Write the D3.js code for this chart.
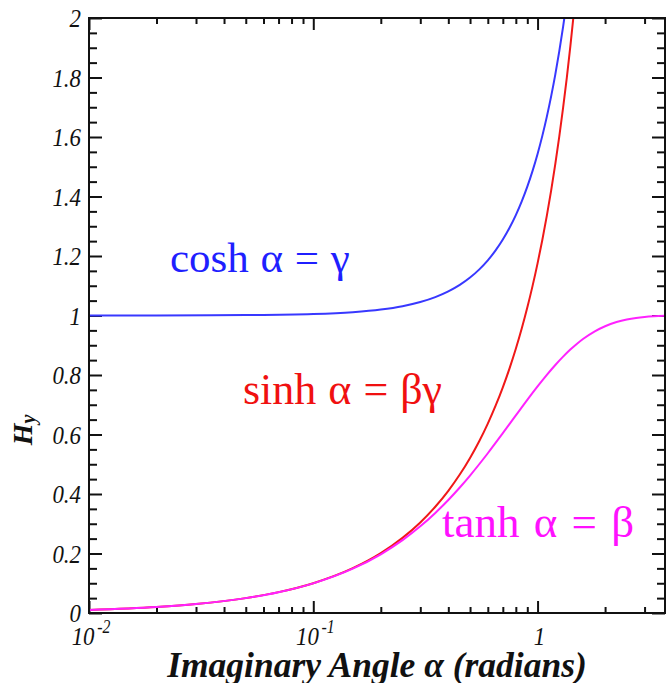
<!DOCTYPE html>
<html><head><meta charset="utf-8">
<script src="https://cdn.jsdelivr.net/npm/d3@7"></script>
<style>body{margin:0;background:#fff}</style></head>
<body><svg id="c" width="668" height="683"></svg>
<script>
// ---- data ----
const alphaCosh = [0.01,0.02,0.05,0.1,0.15,0.2,0.25,0.3,0.35,0.4,0.45,0.5,0.55,0.6,0.65,0.7,0.75,0.8,0.85,0.9,0.95,1.0,1.05,1.1,1.15,1.2,1.25,1.3,1.35,1.4];
const coshVals  = [1.0000,1.0002,1.0013,1.0050,1.0113,1.0201,1.0314,1.0453,1.0619,1.0811,1.1030,1.1276,1.1551,1.1855,1.2188,1.2552,1.2947,1.3374,1.3835,1.4331,1.4862,1.5431,1.6038,1.6685,1.7374,1.8107,1.8884,1.9709,2.0583,2.1509];
const alphaSinh = [0.01,0.02,0.03,0.05,0.07,0.1,0.15,0.2,0.25,0.3,0.35,0.4,0.45,0.5,0.55,0.6,0.65,0.7,0.75,0.8,0.85,0.9,0.95,1.0,1.05,1.1,1.15,1.2,1.25,1.3,1.35,1.4,1.45,1.5];
const sinhVals  = [0.0100,0.0200,0.0300,0.0500,0.0701,0.1002,0.1506,0.2013,0.2526,0.3045,0.3572,0.4108,0.4653,0.5211,0.5782,0.6367,0.6967,0.7586,0.8223,0.8881,0.9561,1.0265,1.0995,1.1752,1.2539,1.3356,1.4208,1.5095,1.6019,1.6984,1.7991,1.9043,2.0143,2.1293];
const alphaTanh = [0.01,0.02,0.03,0.05,0.07,0.1,0.15,0.2,0.25,0.3,0.35,0.4,0.45,0.5,0.6,0.7,0.8,0.9,1.0,1.1,1.2,1.3,1.4,1.5,1.6,1.8,2.0,2.25,2.5,2.75,3.0,3.3,3.7];
const tanhVals  = [0.0100,0.0200,0.0300,0.0500,0.0699,0.0997,0.1489,0.1974,0.2449,0.2913,0.3364,0.3799,0.4219,0.4621,0.5370,0.6044,0.6640,0.7163,0.7616,0.8005,0.8337,0.8617,0.8854,0.9051,0.9217,0.9468,0.9640,0.9780,0.9866,0.9919,0.9951,0.9973,0.9988];

const xTickValues = [0.01, 0.1, 1];
const xTickBase   = ["10", "10", "1"];
const xTickExp    = ["-2", "-1", ""];
const yTickValues = [0,0.2,0.4,0.6,0.8,1,1.2,1.4,1.6,1.8,2];
const yTickLabels = ["0","0.2","0.4","0.6","0.8","1","1.2","1.4","1.6","1.8","2"];
const xDomain = [0.01, 3.7];
const yDomain = [0, 2];
const seriesNames  = ["cosh α = γ", "sinh α = βγ", "tanh α = β"];
const xLabel = "Imaginary Angle α (radians)";
const yLabelMain = "H", yLabelSub = "y";

// ---- layout ----
const L = 89, R = 665, T = 18, B = 613;
const svg = d3.select("#c");
const x = d3.scaleLog().domain(xDomain).range([L, R]);
const y = d3.scaleLinear().domain(yDomain).range([B, T]);

svg.append("defs").append("clipPath").attr("id","clip")
  .append("rect").attr("x",L).attr("y",T).attr("width",R-L).attr("height",B-T);

// ---- axes (inward ticks on all four sides) ----
const xMinor = x.ticks().filter(v => !xTickValues.includes(v));
const yMinor = d3.range(0, 2.0001, 0.05).map(v => +v.toFixed(2)).filter(v => !yTickValues.some(t => Math.abs(t-v) < 1e-6));

function styleAxis(g){ g.select(".domain").remove(); g.selectAll("line").attr("stroke","#111").attr("stroke-width",2); g.selectAll("text").remove(); }

svg.append("g").attr("transform",`translate(0,${B})`).call(d3.axisBottom(x).tickValues(xTickValues).tickSize(-12)).call(styleAxis);
svg.append("g").attr("transform",`translate(0,${B})`).call(d3.axisBottom(x).tickValues(xMinor).tickSize(-6)).call(styleAxis);
svg.append("g").attr("transform",`translate(0,${T})`).call(d3.axisTop(x).tickValues(xTickValues).tickSize(-12)).call(styleAxis);
svg.append("g").attr("transform",`translate(0,${T})`).call(d3.axisTop(x).tickValues(xMinor).tickSize(-6)).call(styleAxis);
svg.append("g").attr("transform",`translate(${L},0)`).call(d3.axisLeft(y).tickValues(yTickValues).tickSize(-13)).call(styleAxis);
svg.append("g").attr("transform",`translate(${L},0)`).call(d3.axisLeft(y).tickValues(yMinor).tickSize(-8)).call(styleAxis);
svg.append("g").attr("transform",`translate(${R},0)`).call(d3.axisRight(y).tickValues(yTickValues).tickSize(-13)).call(styleAxis);
svg.append("g").attr("transform",`translate(${R},0)`).call(d3.axisRight(y).tickValues(yMinor).tickSize(-8)).call(styleAxis);

// ---- curves (drawn over the ticks) ----
const series = [
  {xs: alphaCosh, ys: coshVals, color: "#3838ff"},
  {xs: alphaSinh, ys: sinhVals, color: "#f01818"},
  {xs: alphaTanh, ys: tanhVals, color: "#ff22ff"}
];
const line = d3.line().x(d => x(d[0])).y(d => y(d[1])).curve(d3.curveMonotoneX);
const gLines = svg.append("g").attr("clip-path","url(#clip)");
series.forEach(s => {
  gLines.append("path").datum(s.xs.map((v,i)=>[v,s.ys[i]]))
    .attr("d", line).attr("fill","none").attr("stroke", s.color).attr("stroke-width", 2);
});

// frame
svg.append("rect").attr("x",L).attr("y",T).attr("width",R-L).attr("height",B-T)
  .attr("fill","none").attr("stroke","#111").attr("stroke-width",2);

// ---- tick labels ----
const serif = "'Liberation Serif','DejaVu Serif',serif";
yTickValues.forEach((v,i) => {
  svg.append("text").attr("transform",`translate(${L-8},${y(v)+9}) scale(0.88,1)`)
    .attr("text-anchor","end").attr("font-family",serif).attr("font-style","italic")
    .attr("font-size",26).attr("fill","#111").text(yTickLabels[i]);
});
xTickValues.forEach((v,i) => {
  const t = svg.append("text").attr("transform",`translate(${x(v)+2},${B+32}) scale(0.88,1)`)
    .attr("text-anchor","middle").attr("font-family",serif).attr("font-style","italic")
    .attr("font-size",26).attr("fill","#111");
  t.append("tspan").text(xTickBase[i]);
  if (xTickExp[i]) t.append("tspan").attr("font-size",18).attr("dy",-12).attr("dx",3).text(xTickExp[i]);
});

// ---- axis titles ----
svg.append("text").attr("x",377).attr("y",677).attr("text-anchor","middle")
  .attr("font-family",serif).attr("font-style","italic").attr("font-weight","bold")
  .attr("font-size",35.5).attr("fill","#111").text(xLabel);
const yl = svg.append("text").attr("transform","translate(32,430) rotate(-90)").attr("text-anchor","middle")
  .attr("font-family",serif).attr("font-style","italic").attr("font-weight","bold")
  .attr("font-size",28).attr("fill","#111");
yl.append("tspan").text(yLabelMain);
yl.append("tspan").attr("font-size",20).attr("dy",3).text(yLabelSub);

// ---- curve labels ----
const labelPos = [[170,272],[243,404],[442,537]];
const labelSizes = [43, 44, 45];
const labelSpacing = [1, 1, 3];
const labelColors = ["#1f1fff","#f01010","#ff11ff"];
seriesNames.forEach((s,i) => {
  svg.append("text").attr("x",labelPos[i][0]).attr("y",labelPos[i][1])
    .attr("font-family",serif).attr("font-size",labelSizes[i]).attr("word-spacing",labelSpacing[i])
    .attr("fill",labelColors[i]).text(s);
});
</script></body></html>
